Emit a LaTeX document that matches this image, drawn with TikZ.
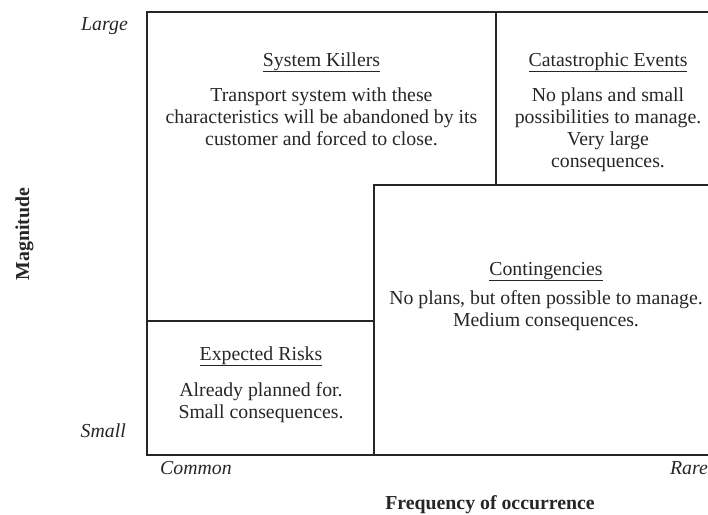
\documentclass[tikz,border=0pt]{standalone}
\usepackage{fontspec}
\setmainfont{Liberation Serif}
\begin{document}
\begin{tikzpicture}[x=1pt,y=-1pt,
  frame/.style={line width=1.4pt,draw=black!85},
  txt/.style={font=\fontsize{19.8}{22}\selectfont,text=black!85,inner sep=0pt,anchor=base},
  axlab/.style={font=\fontsize{19.8}{22}\selectfont\itshape,text=black!85,inner sep=0pt},
  axtitle/.style={font=\fontsize{19.8}{22}\selectfont\bfseries,text=black!85,inner sep=0pt}]
\useasboundingbox (0,0) rectangle (708,514);
% corners
\coordinate (tl) at (147,12);
\coordinate (tr) at (712,12);
\coordinate (bl) at (147,455);
\coordinate (br) at (712,455);
\coordinate (vt) at (496,12);
\coordinate (vm) at (496,185);
\coordinate (cm) at (374,185);
\coordinate (cr) at (712,185);
\coordinate (cb) at (374,455);
\coordinate (el) at (147,321);
\coordinate (er) at (374,321);
\draw[frame] (tr) -- (tl) -- (bl) -- (br);
\draw[frame] (vt) -- (vm);
\draw[frame] (cr) -- (cm) -- (cb);
\draw[frame] (el) -- (er);
% System killers
\node[txt] (skt) at (321.5,66) {\underline{System Killers}};
\node[txt] (sk1) at (321.5,101) {Transport system with these};
\node[txt] (sk2) at (321.5,123) {characteristics will be abandoned by its};
\node[txt] (sk3) at (321.5,145) {customer and forced to close.};
% Catastrophic
\node[txt] (cet) at (608,66) {\underline{Catastrophic Events}};
\node[txt] (ce1) at (608,101) {No plans and small};
\node[txt] (ce2) at (608,123) {possibilities to manage.};
\node[txt] (ce3) at (608,145) {Very large};
\node[txt] (ce4) at (608,167) {consequences.};
% Contingencies
\node[txt] (cot) at (546,275) {\underline{Contingencies}};
\node[txt] (co1) at (546,304) {No plans, but often possible to manage.};
\node[txt] (co2) at (546,326) {Medium consequences.};
% Expected
\node[txt] (ert) at (261,360) {\underline{Expected Risks}};
\node[txt] (er1) at (261,396) {Already planned for.};
\node[txt] (er2) at (261,418) {Small consequences.};
% axes
\node[axlab,anchor=base east] (large) at (128,30) {Large};
\node[axlab,anchor=base east] (small) at (126,437) {Small};
\node[axlab,anchor=base west] (common) at (160,474) {Common};
\node[axlab,anchor=base east] (rare) at (708,474) {Rare};
\node[axtitle,anchor=base] (freq) at (490,509) {Frequency of occurrence};
\node[axtitle,anchor=base,rotate=90] (mag) at (29,234) {Magnitude};
\end{tikzpicture}
\end{document}
